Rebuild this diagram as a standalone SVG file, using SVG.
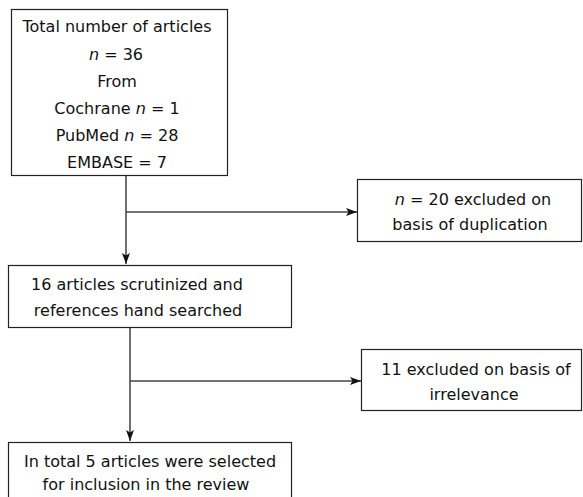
<svg xmlns="http://www.w3.org/2000/svg" width="583" height="497" viewBox="0 0 583 497">
<style>
.box{fill:#fff;stroke:#222;stroke-width:1.2}
.t{font-family:"DejaVu Sans",Verdana,sans-serif;font-size:16px;fill:#111;text-anchor:middle}
.i{font-style:italic}
.ln{fill:none;stroke:#111;stroke-width:1.2}
.lh{fill:none;stroke:#444;stroke-width:1.4}
</style>
<defs>
<marker id="ah" markerUnits="userSpaceOnUse" markerWidth="12" markerHeight="10" viewBox="0 0 12 10" refX="11" refY="5" orient="auto">
<path d="M0,1 L11,5 L0,9 L2.5,5 Z" fill="#111"/>
</marker>
</defs>
<rect width="583" height="497" fill="#fff"/>
<g id="connectors">
<path class="ln" d="M126,175.5 V264" marker-end="url(#ah)"/>
<path class="lh" d="M126,212 H357" marker-end="url(#ah)"/>
<path class="ln" d="M130,327.5 V441" marker-end="url(#ah)"/>
<path class="lh" d="M130,381 H361" marker-end="url(#ah)"/>
</g>
<g id="n1">
<rect class="box" x="11.5" y="9.5" width="216" height="166"/>
<text class="t" x="117" y="32">Total number of articles</text>
<text class="t" x="116" y="60"><tspan class="i">n</tspan> = 36</text>
<text class="t" x="117" y="87">From</text>
<text class="t" x="117" y="114">Cochrane <tspan class="i">n</tspan> = 1</text>
<text class="t" x="117" y="141">PubMed <tspan class="i">n</tspan> = 28</text>
<text class="t" x="117" y="168">EMBASE = 7</text>
</g>
<g id="n2">
<rect class="box" x="357.5" y="179.5" width="224" height="62"/>
<text class="t" x="473" y="205"><tspan class="i">n</tspan> = 20 excluded on</text>
<text class="t" x="470" y="230">basis of duplication</text>
</g>
<g id="n3">
<rect class="box" x="8.5" y="265.5" width="283" height="62"/>
<text class="t" x="137" y="290">16 articles scrutinized and</text>
<text class="t" x="138" y="316">references hand searched</text>
</g>
<g id="n4">
<rect class="box" x="361.5" y="349.5" width="220" height="61"/>
<text class="t" x="476" y="375">11 excluded on basis of</text>
<text class="t" x="474" y="400">irrelevance</text>
</g>
<g id="n5">
<rect class="box" x="8.5" y="442.5" width="283" height="56"/>
<text class="t" x="150" y="467">In total 5 articles were selected</text>
<text class="t" x="146" y="490">for inclusion in the review</text>
</g>
</svg>
